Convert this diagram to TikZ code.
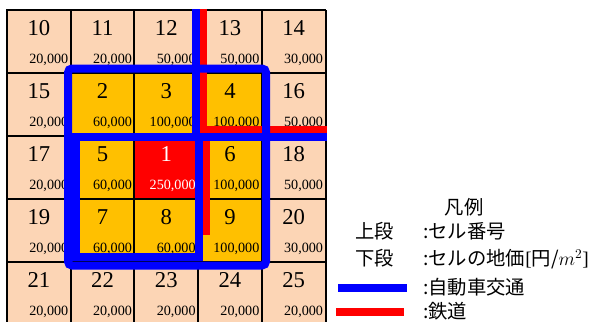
\documentclass[tikz,border=0pt]{standalone}
\usepackage{fontspec}
\setmainfont{Liberation Serif}
\newfontfamily\jpfont{Noto Sans CJK JP}
\definecolor{peach}{HTML}{FCD5B5}
\definecolor{gold}{HTML}{FFC000}
\definecolor{roadblue}{HTML}{0000FF}
\definecolor{railred}{HTML}{FF0000}
\begin{document}
\begin{tikzpicture}[x=0.75pt,y=-0.75pt,
  num/.style={anchor=base, inner sep=0pt, font=\fontsize{17}{17}\selectfont},
  val/.style={anchor=base east, inner sep=0pt, font=\fontsize{10.6}{11}\selectfont},
  gridline/.style={draw=black, line width=1.5pt},
  road/.style={draw=roadblue, line width=6pt},
  rail/.style={draw=railred, line width=6pt},
  legend/.style={anchor=west, inner sep=0pt, font=\jpfont\fontsize{14.5}{15}\selectfont, text height=12.8pt, text depth=1.7pt}]
\useasboundingbox (0,0) rectangle (594,322);
\begin{scope}
\clip (0,0) rectangle (594,322);
\foreach \c/\r/\n/\v/\f/\t in {
 0/0/10/{20,000}/peach/black, 1/0/11/{20,000}/peach/black, 2/0/12/{50,000}/peach/black, 3/0/13/{50,000}/peach/black, 4/0/14/{30,000}/peach/black,
 0/1/15/{20,000}/peach/black, 1/1/2/{60,000}/gold/black, 2/1/3/{100,000}/gold/black, 3/1/4/{100,000}/gold/black, 4/1/16/{50,000}/peach/black,
 0/2/17/{20,000}/peach/black, 1/2/5/{60,000}/gold/black, 2/2/1/{250,000}/railred/white, 3/2/6/{100,000}/gold/black, 4/2/18/{50,000}/peach/black,
 0/3/19/{20,000}/peach/black, 1/3/7/{60,000}/gold/black, 2/3/8/{60,000}/gold/black, 3/3/9/{100,000}/gold/black, 4/3/20/{30,000}/peach/black,
 0/4/21/{20,000}/peach/black, 1/4/22/{20,000}/peach/black, 2/4/23/{20,000}/peach/black, 3/4/24/{20,000}/peach/black, 4/4/25/{20,000}/peach/black}{
  \fill[\f] ({7+63.7*\c},{10+63*\r}) rectangle +(63.7,63);
  \node[num, text=\t] (n\n) at ({7+63.7*\c+31.85},{10+63*\r+25}) {\n};
  \node[val, text=\t] (v\n) at ({7+63.7*\c+61.5},{10+63*\r+53}) {\v};
}
\foreach \i in {0,...,5} \draw[gridline] ({7+63.7*\i},10) -- ({7+63.7*\i},326);
\foreach \j in {0,...,5} \draw[gridline] (6.25,{10+63*\j}) -- (326.25,{10+63*\j});
% railway
\coordinate (railtop) at (203,9);
\coordinate (railcorner) at (203,130);
\coordinate (railend) at (327,130);
\draw[rail] (railtop) -- (railcorner) -- (railend);
\coordinate (raillowtop) at (206,139);
\coordinate (raillowend) at (206,235);
\draw[rail] (raillowtop) -- (raillowend);
% roads
\draw[road, rounded corners=3] (68,68.5) rectangle (266,265.5);
\draw[road] (76,137) rectangle (198.5,257);
\coordinate (roadcross) at (196,137);
\coordinate (roadend) at (327,137);
\coordinate (roadtop) at (196,9);
\draw[road] (roadcross) -- (roadend);
\draw[road] (roadtop) -- (roadcross);
\end{scope}
% legend
\node[legend, anchor=center] (lgtitle) at (464,207) {凡例};
\node[legend] (up) at (355,231.5) {上段};
\node[legend] (upd) at (423,231.5) {:セル番号};
\node[legend] (lo) at (355,258.5) {下段};
\node[legend] (lod) at (423,258.5) {:セルの地価{\rmfamily[}円/$m^2${\rmfamily]}};
\coordinate (b1) at (338,287.5);
\coordinate (b2) at (407,287.5);
\draw[road] (b1) -- (b2);
\node[legend] (bd) at (423,287.5) {:自動車交通};
\coordinate (r1) at (336,311.5);
\coordinate (r2) at (404,311.5);
\draw[rail] (r1) -- (r2);
\node[legend] (rd) at (423,311.5) {:鉄道};
\end{tikzpicture}
\end{document}
